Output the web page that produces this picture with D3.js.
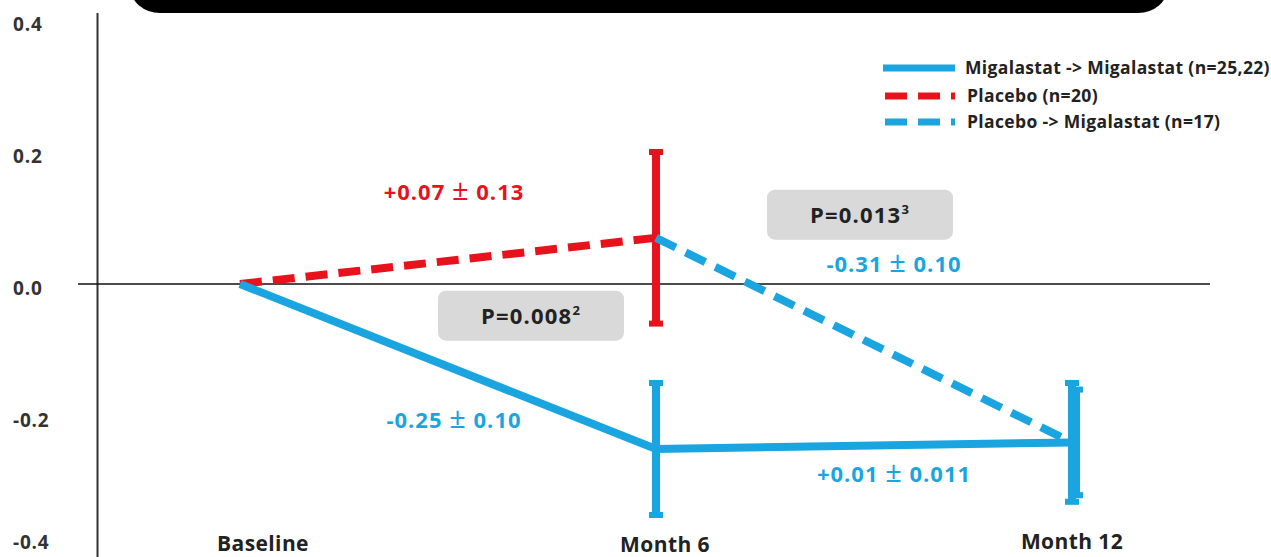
<!DOCTYPE html>
<html>
<head>
<meta charset="utf-8">
<script src="https://cdn.jsdelivr.net/npm/d3@7"></script>
<style>
  html, body { margin: 0; padding: 0; background: #fff; }
  svg { display: block; font-family: "Open Sans", Lato, sans-serif; }
</style>
</head>
<body>
<svg id="chart" width="1271" height="557"></svg>
<script>
// Time points on the x axis
const timepoints = ["Baseline", "Month 6", "Month 12"];

// Mean change from baseline per group, with SEM for the error bars
const migalastatMean = [0, -0.25, -0.24];
const migalastatSem  = [null, 0.10, 0.09];
const placeboMean    = [0, 0.07];
const placeboSem     = [null, 0.13];
const switchMean     = [null, 0.07, -0.24];   // placebo -> migalastat, from Month 6
const switchSem      = [null, null, 0.08];

// Y axis tick values
const yTicks = [0.4, 0.2, 0.0, -0.2, -0.4];

// Annotated changes (mean ± SEM) and p-values
const changeLabels = [
  { a: "+0.07", b: "0.13",  color: "red",  at: ["Baseline", "Month 6"], v: 0.127 },
  { a: "-0.25", b: "0.10",  color: "blue", at: ["Baseline", "Month 6"], v: -0.218 },
  { a: "+0.01", b: "0.011", color: "blue", at: ["Month 6", "Month 12"], v: -0.30 },
  { a: "-0.31", b: "0.10",  color: "blue", at: ["Month 6", "Month 12"], v: 0.018 }
];
const pValues = [
  { base: "P=0.008", sup: "2", v: -0.048 },
  { base: "P=0.013", sup: "3", v: 0.105 }
];

const legendItems = [
  { label: "Migalastat -> Migalastat (n=25,22)", color: "blue", dashed: false },
  { label: "Placebo (n=20)", color: "red", dashed: true },
  { label: "Placebo -> Migalastat (n=17)", color: "blue", dashed: true }
];

const colors = { blue: "#1aa5e0", red: "#e8121c" };
const textColor = "#222";
const lineW = 8;
const dash = "22,11";

const svg = d3.select("#chart");

const x = d3.scalePoint().domain(timepoints).range([240, 1072]);
const y = d3.scaleLinear().domain([-0.4, 0.4]).range([548, 20]);

// Black header banner with rounded lower corners
svg.append("rect")
  .attr("x", 130).attr("y", -40)
  .attr("width", 1038).attr("height", 53)
  .attr("rx", 30).attr("ry", 30)
  .attr("fill", "#000");

// Vertical axis line
svg.append("line")
  .attr("x1", 97.5).attr("x2", 97.5)
  .attr("y1", 13).attr("y2", 557)
  .attr("stroke", "#333").attr("stroke-width", 2);

// Zero reference line
svg.append("line")
  .attr("x1", 78).attr("x2", 1210)
  .attr("y1", y(0)).attr("y2", y(0))
  .attr("stroke", "#111").attr("stroke-width", 1.5);

// Y tick labels
svg.append("g").selectAll("text")
  .data(yTicks).join("text")
  .attr("x", 13)
  .attr("y", d => Math.min(y(d) + 11, 549))
  .attr("font-size", 19).attr("font-weight", 700)
  .attr("letter-spacing", 0.8)
  .attr("fill", "#333")
  .text(d => d.toFixed(1));

// X category labels
const xLabelShift = { "Baseline": 23, "Month 6": 9, "Month 12": 0 };
const xLabelY = { "Baseline": 551, "Month 6": 552, "Month 12": 549 };
svg.append("g").selectAll("text")
  .data(timepoints).join("text")
  .attr("x", d => x(d) + xLabelShift[d])
  .attr("y", d => xLabelY[d])
  .attr("text-anchor", "middle")
  .attr("font-size", 21).attr("font-weight", 700)
  .attr("letter-spacing", 0.4)
  .attr("fill", textColor)
  .text(d => d);

function series(means, sems) {
  return timepoints.map((t, i) => ({ t, m: means[i], s: sems[i] }))
    .filter(d => d.m !== null && d.m !== undefined);
}

const line = d3.line().x(d => x(d.t)).y(d => y(d.m));

function errorBars(data, color, dx) {
  const g = svg.append("g");
  data.filter(d => d.s != null).forEach(d => {
    const cx = x(d.t) + (dx || 0);
    g.append("line")
      .attr("x1", cx).attr("x2", cx)
      .attr("y1", y(d.m + d.s)).attr("y2", y(d.m - d.s))
      .attr("stroke", colors[color]).attr("stroke-width", lineW);
    [d.m + d.s, d.m - d.s].forEach(v => {
      g.append("rect")
        .attr("x", cx - 7).attr("y", y(v) - 3)
        .attr("width", 14).attr("height", 6)
        .attr("fill", colors[color]);
    });
  });
}

// Placebo (dashed red) and its Month 6 error bar
const placebo = series(placeboMean, placeboSem);
svg.append("path").datum(placebo)
  .attr("d", line).attr("fill", "none")
  .attr("stroke", colors.red).attr("stroke-width", lineW)
  .attr("stroke-dasharray", dash);
errorBars(placebo, "red", 0);

// Placebo -> migalastat (dashed blue)
const switched = series(switchMean, switchSem);
svg.append("path").datum(switched)
  .attr("d", line).attr("fill", "none")
  .attr("stroke", colors.blue).attr("stroke-width", lineW)
  .attr("stroke-dasharray", dash);
errorBars(switched, "blue", 4);

// Migalastat -> migalastat (solid blue)
const miga = series(migalastatMean, migalastatSem);
svg.append("path").datum(miga)
  .attr("d", line).attr("fill", "none")
  .attr("stroke", colors.blue).attr("stroke-width", lineW);
errorBars(miga, "blue", 0);

// Change annotations: mean, a wide ± sign, SEM
const labelShift = { "Baseline": 6, "Month 6": 30 };
changeLabels.forEach(d => {
  const t = svg.append("text")
    .attr("x", (x(d.at[0]) + x(d.at[1])) / 2 + labelShift[d.at[0]])
    .attr("y", y(d.v))
    .attr("text-anchor", "middle")
    .attr("font-size", 22).attr("font-weight", 700)
    .attr("letter-spacing", 1)
    .attr("fill", colors[d.color])
    .attr("xml:space", "preserve");
  t.append("tspan").text(d.a + " ");
  t.append("tspan").attr("font-size", 29).attr("font-weight", 400).text("\u00B1");
  t.append("tspan").text(" " + d.b);
});

// P-value boxes
const pBoxX = [438, 767];
pValues.forEach((p, i) => {
  const cy = y(p.v);
  svg.append("rect")
    .attr("x", pBoxX[i]).attr("y", cy - 25)
    .attr("width", 186).attr("height", 50)
    .attr("rx", 8).attr("fill", "#d9d9d9");
  const t = svg.append("text")
    .attr("x", pBoxX[i] + 93).attr("y", cy + 8)
    .attr("text-anchor", "middle")
    .attr("font-size", 22).attr("font-weight", 700)
    .attr("letter-spacing", 1.2)
    .attr("fill", textColor);
  t.append("tspan").text(p.base);
  t.append("tspan").attr("dy", -9).attr("font-size", 13).text(p.sup);
});

// Legend
const legend = svg.append("g").attr("transform", "translate(883,68)");
legendItems.forEach((d, i) => {
  const ly = i === 0 ? 0 : (i === 1 ? 28 : 54);
  legend.append("line")
    .attr("x1", i === 0 ? 0 : 2).attr("x2", 72)
    .attr("y1", ly).attr("y2", ly)
    .attr("stroke", colors[d.color]).attr("stroke-width", 7)
    .attr("stroke-dasharray", d.dashed ? "22,11" : null);
  legend.append("text")
    .attr("x", i === 0 ? 82 : 84).attr("y", ly + 6)
    .attr("font-size", 17.5).attr("font-weight", 700)
    .attr("letter-spacing", 0.35)
    .attr("fill", textColor)
    .text(d.label);
});
</script>
</body>
</html>
